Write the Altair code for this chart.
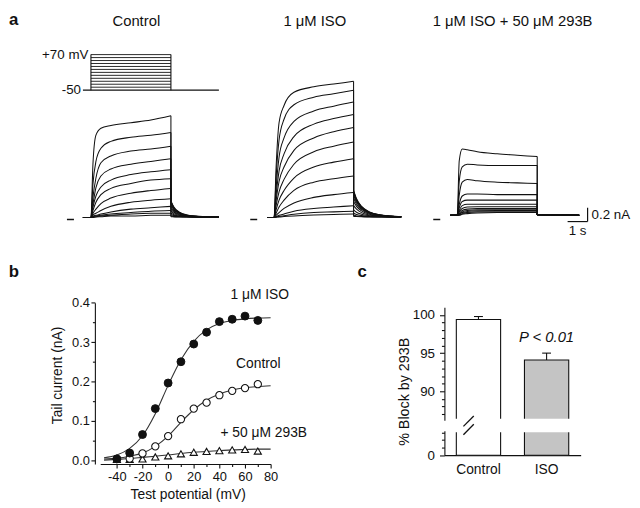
import altair as alt
import pandas as pd

FONT = "Liberation Sans"
INK = "#111111"
W, H = 632, 500

# ======================= panel a : current traces =======================
T_PULSE = [0, 0.1, 0.25, 0.5, 1, 2, 3, 4]          # s, during the test pulse
T_TAIL = [4, 4.15, 4.4, 4.8, 5.4, 6.4]             # s, tail at -50 mV
T_TAIL_293B = [4, 6.1]
ZERO_T = [-1.2, -0.85]                              # zero-current marker

CTRL_PRE = -0.4
CTRL_PULSE = [
    [0.03, 0.80, 1.22, 1.32, 1.36, 1.40, 1.44, 1.50],
    [0.03, 0.51, 0.84, 1.03, 1.13, 1.19, 1.22, 1.26],
    [0.03, 0.32, 0.60, 0.82, 0.92, 0.99, 1.02, 1.06],
    [0.03, 0.22, 0.46, 0.63, 0.73, 0.80, 0.84, 0.88],
    [0.03, 0.18, 0.34, 0.47, 0.57, 0.65, 0.69, 0.72],
    [0.03, 0.13, 0.25, 0.36, 0.45, 0.52, 0.57, 0.59],
    [0.03, 0.09, 0.15, 0.23, 0.31, 0.38, 0.42, 0.45],
    [0.03, 0.07, 0.09, 0.13, 0.19, 0.25, 0.28, 0.30],
    [0.03, 0.05, 0.06, 0.08, 0.11, 0.15, 0.17, 0.19],
    [0.03, 0.04, 0.05, 0.06, 0.08, 0.10, 0.12, 0.13],
    [0.03, 0.04, 0.04, 0.05, 0.06, 0.08, 0.09, 0.09],
    [0.03, 0.03, 0.035, 0.04, 0.05, 0.05, 0.06, 0.06],
]
CTRL_TAIL = [
    [0.27, 0.18, 0.11, 0.065, 0.045, 0.035],
    [0.26, 0.17, 0.105, 0.062, 0.044, 0.035],
    [0.25, 0.165, 0.10, 0.06, 0.043, 0.035],
    [0.23, 0.15, 0.095, 0.058, 0.042, 0.034],
    [0.21, 0.14, 0.088, 0.055, 0.041, 0.034],
    [0.18, 0.12, 0.08, 0.052, 0.04, 0.034],
    [0.15, 0.105, 0.07, 0.049, 0.039, 0.033],
    [0.12, 0.085, 0.06, 0.045, 0.037, 0.033],
    [0.09, 0.07, 0.052, 0.042, 0.036, 0.033],
    [0.07, 0.057, 0.046, 0.039, 0.035, 0.033],
    [0.05, 0.045, 0.04, 0.036, 0.034, 0.033],
    [0.04, 0.038, 0.036, 0.035, 0.034, 0.033],
]

ISO_PRE = -0.35
ISO_PULSE = [
    [0.03, 0.75, 1.40, 1.65, 1.84, 1.92, 1.96, 2.00],
    [0.03, 0.60, 1.15, 1.45, 1.66, 1.77, 1.82, 1.87],
    [0.03, 0.45, 0.90, 1.18, 1.42, 1.57, 1.64, 1.70],
    [0.03, 0.35, 0.70, 0.95, 1.20, 1.38, 1.46, 1.52],
    [0.03, 0.27, 0.55, 0.76, 1.00, 1.18, 1.27, 1.33],
    [0.03, 0.20, 0.40, 0.58, 0.80, 0.98, 1.06, 1.12],
    [0.03, 0.14, 0.28, 0.42, 0.60, 0.76, 0.83, 0.88],
    [0.03, 0.09, 0.18, 0.28, 0.42, 0.54, 0.59, 0.63],
    [0.03, 0.06, 0.10, 0.16, 0.24, 0.32, 0.36, 0.39],
    [0.03, 0.04, 0.06, 0.08, 0.12, 0.16, 0.18, 0.20],
    [0.03, 0.035, 0.045, 0.055, 0.075, 0.10, 0.11, 0.12],
    [0.03, 0.032, 0.037, 0.042, 0.052, 0.065, 0.073, 0.08],
]
ISO_TAIL = [
    [0.42, 0.30, 0.19, 0.11, 0.065, 0.04],
    [0.41, 0.29, 0.185, 0.105, 0.063, 0.04],
    [0.40, 0.28, 0.18, 0.10, 0.062, 0.04],
    [0.38, 0.27, 0.17, 0.097, 0.06, 0.04],
    [0.35, 0.25, 0.16, 0.092, 0.058, 0.04],
    [0.31, 0.22, 0.145, 0.085, 0.055, 0.04],
    [0.26, 0.19, 0.125, 0.077, 0.052, 0.04],
    [0.20, 0.15, 0.10, 0.066, 0.048, 0.038],
    [0.14, 0.105, 0.075, 0.055, 0.044, 0.037],
    [0.09, 0.072, 0.056, 0.045, 0.04, 0.036],
    [0.06, 0.052, 0.045, 0.04, 0.037, 0.035],
    [0.045, 0.042, 0.039, 0.037, 0.035, 0.034],
]

B293_PRE = -0.35
B293_PULSE = [
    [0.06, 0.85, 1.02, 1.01, 0.98, 0.95, 0.93, 0.91],
    [0.06, 0.55, 0.76, 0.80, 0.79, 0.78, 0.78, 0.78],
    [0.06, 0.35, 0.54, 0.58, 0.56, 0.54, 0.53, 0.52],
    [0.06, 0.22, 0.34, 0.37, 0.37, 0.36, 0.36, 0.36],
    [0.06, 0.17, 0.26, 0.28, 0.28, 0.28, 0.28, 0.28],
    [0.06, 0.13, 0.20, 0.22, 0.22, 0.22, 0.22, 0.22],
    [0.06, 0.11, 0.16, 0.18, 0.185, 0.185, 0.185, 0.185],
    [0.06, 0.09, 0.13, 0.15, 0.16, 0.16, 0.16, 0.16],
    [0.06, 0.08, 0.11, 0.13, 0.14, 0.14, 0.14, 0.14],
    [0.06, 0.07, 0.10, 0.115, 0.125, 0.13, 0.13, 0.13],
    [0.06, 0.065, 0.085, 0.10, 0.11, 0.11, 0.11, 0.11],
    [0.06, 0.06, 0.075, 0.085, 0.095, 0.10, 0.10, 0.10],
]
B293_TAIL = [[0.07, 0.06] for _ in range(12)]

# voltage protocol
V_STEPS = [-40, -30, -20, -10, 0, 10, 20, 30, 40, 50, 60, 70]
V_HOLD = -50
V_PULSE_T = [0, 4]
V_HOLD_T = [-0.4, 6.4]
V_LABELS = ["+70 mV", "-50"]
V_LABEL_V = [70, -50]
V_LABEL_T = [-0.08, -0.45]

A_TITLES = ["Control", "1 μM ISO", "1 μM ISO + 50 μM 293B"]
A_TITLE_T = [2.27, 2.05, 2.77]
A_TITLE_I = 2.87

SB_T = [5.52, 6.52]          # 1 s
SB_I = [-0.03, 0.17]         # 0.2 nA
SB_TEXT = ["0.2 nA", "1 s"]
SB_TEXT_T = [6.72, 6.02]
SB_TEXT_I = [0.07, -0.16]

# ======================= panel b : tail current vs potential =======================
B_V = [-40, -30, -20, -10, 0, 10, 20, 30, 40, 50, 60, 70]
B_ISO = [0.003, 0.018, 0.065, 0.131, 0.196, 0.250, 0.295, 0.325, 0.352, 0.358, 0.366, 0.355]
B_CTRL = [0.003, 0.004, 0.017, 0.035, 0.061, 0.104, 0.131, 0.146, 0.165, 0.176, 0.183, 0.193]
B_293B = [0.002, 0.002, 0.003, 0.008, 0.011, 0.016, 0.020, 0.022, 0.024, 0.026, 0.027, 0.023]

FIT_V = [-50, -40, -30, -20, -10, 0, 10, 20, 30, 40, 50, 60, 70, 80]
FIT_ISO = [0.006, 0.013, 0.030, 0.062, 0.118, 0.190, 0.255, 0.302, 0.331, 0.347, 0.355, 0.359, 0.361, 0.362]
FIT_CTRL = [0.003, 0.005, 0.010, 0.018, 0.035, 0.061, 0.096, 0.128, 0.152, 0.168, 0.178, 0.184, 0.187, 0.189]
FIT_293B = [0.000, 0.002, 0.004, 0.007, 0.010, 0.013, 0.017, 0.020, 0.022, 0.024, 0.026, 0.027, 0.028, 0.028]

B_LABELS = ["1 μM ISO", "Control", "+ 50 μM 293B"]
B_LABEL_V = [71.5, 70.4, 74.6]
B_LABEL_I = [0.42, 0.243, 0.07]

# ======================= panel c : % block =======================
C_GROUPS = ["Control", "ISO"]
C_MEAN = [99.4, 94.1]
C_SEM = [0.4, 0.9]
C_FILL = ["white", "#c4c4c4"]
C_P_TEXT = "P < 0.01"
C_P_AT = ["ISO", 97.1]

# panel letters (placed in the scales of their panels)
LET_A = ["a", -4.1, 3.0]
LET_BC = ["b", "c"]
LET_BC_V = [-124.3, 147.8]
LET_BC_I = 0.4786

# ======================= scales =======================
X_CTRL = ([0, 4], [84, 165])
X_ISO = ([0, 4], [269.5, 350])
X_293B = ([0, 4], [455, 536])
Y_A = ([0, 1], [211, 141])
Y_V = ([-50, 70], [80, 44])
X_B = ([-53, 80], [93.4, 266.0])
Y_B = ([-0.01, 0.4], [458.7, 295.3])
Y_CU = ([86.2, 101], [414.3, 300])
Y_CL = ([0, 3.2], [449.7, 425])


def sc(s):
    return alt.Scale(domain=s[0], range=s[1], nice=False, zero=False)


def cband():
    return alt.Scale(domain=C_GROUPS, range=[442, 580], paddingInner=0.35, paddingOuter=0.175)


def qx(field, s, axis=None):
    return alt.X(field, type="quantitative", scale=sc(s), axis=axis)


def qy(field, s, axis=None):
    return alt.Y(field, type="quantitative", scale=sc(s), axis=axis)


layers = []

# ---------- panel a ----------
def trace_layers(xs, pulse, tail, t_tail, t_pre):
    rows = []
    for k, vals in enumerate(pulse):
        rows.append({"trace": k, "t": t_pre, "i": vals[0]})
        for t, v in zip(T_PULSE, vals):
            rows.append({"trace": k, "t": t, "i": v})
    dp = pd.DataFrame(rows)
    rows = []
    for k, vals in enumerate(tail):
        for t, v in zip(t_tail, vals):
            rows.append({"trace": k, "t": t, "i": v})
    dt = pd.DataFrame(rows)
    dd = pd.DataFrame({"t": [T_PULSE[-1]] * len(pulse),
                       "top": [p[-1] for p in pulse],
                       "bot": [tl[0] for tl in tail]})
    dz = pd.DataFrame({"t0": [ZERO_T[0]], "t1": [ZERO_T[1]], "i": [0.0]})
    line = dict(color=INK, strokeWidth=1.05)
    return [
        alt.Chart(dp).mark_line(interpolate="monotone", **line).encode(
            x=qx("t", xs), y=qy("i", Y_A), detail="trace:N"),
        alt.Chart(dt).mark_line(interpolate="monotone", **line).encode(
            x=qx("t", xs), y=qy("i", Y_A), detail="trace:N"),
        alt.Chart(dd).mark_rule(**line).encode(
            x=qx("t", xs), y=qy("top", Y_A), y2="bot:Q"),
        alt.Chart(dz).mark_rule(color=INK, strokeWidth=1.5).encode(
            x=qx("t0", xs), x2="t1:Q", y=qy("i", Y_A)),
    ]


layers += trace_layers(X_CTRL, CTRL_PULSE, CTRL_TAIL, T_TAIL, CTRL_PRE)
layers += trace_layers(X_ISO, ISO_PULSE, ISO_TAIL, T_TAIL, ISO_PRE)
layers += trace_layers(X_293B, B293_PULSE, B293_TAIL, T_TAIL_293B, B293_PRE)

# titles of panel a
for xs, title, tt in zip([X_CTRL, X_ISO, X_293B], A_TITLES, A_TITLE_T):
    layers.append(
        alt.Chart(pd.DataFrame({"t": [tt], "i": [A_TITLE_I], "s": [title]}))
        .mark_text(font=FONT, fontSize=15, color=INK, align="center", baseline="middle")
        .encode(x=qx("t", xs), y=qy("i", Y_A), text="s:N"))

# voltage protocol
dv = pd.DataFrame({"v": V_STEPS, "t0": V_PULSE_T[0], "t1": V_PULSE_T[1]})
layers.append(alt.Chart(dv).mark_rule(color=INK, strokeWidth=0.9).encode(
    x=qx("t0", X_CTRL), x2="t1:Q", y=qy("v", Y_V)))
dedge = pd.DataFrame({"t": V_PULSE_T, "v0": V_HOLD, "v1": max(V_STEPS)})
layers.append(alt.Chart(dedge).mark_rule(color=INK, strokeWidth=1.1).encode(
    x=qx("t", X_CTRL), y=qy("v0", Y_V), y2="v1:Q"))
dh = pd.DataFrame({"t0": [V_HOLD_T[0]], "t1": [V_HOLD_T[1]], "v": [V_HOLD]})
layers.append(alt.Chart(dh).mark_rule(color=INK, strokeWidth=1.1).encode(
    x=qx("t0", X_CTRL), x2="t1:Q", y=qy("v", Y_V)))
dvl = pd.DataFrame({"t": V_LABEL_T, "v": V_LABEL_V, "s": V_LABELS})
layers.append(alt.Chart(dvl).mark_text(font=FONT, fontSize=13.5, color=INK, align="right",
                                       baseline="middle", dx=-1).encode(
    x=qx("t", X_CTRL), y=qy("v", Y_V), text="s:N"))

# scale bar
dsb_v = pd.DataFrame({"t": [SB_T[1]], "i0": [SB_I[0]], "i1": [SB_I[1]]})
layers.append(alt.Chart(dsb_v).mark_rule(color=INK, strokeWidth=1.2).encode(
    x=qx("t", X_293B), y=qy("i0", Y_A), y2="i1:Q"))
dsb_h = pd.DataFrame({"t0": [SB_T[0]], "t1": [SB_T[1]], "i": [SB_I[0]]})
layers.append(alt.Chart(dsb_h).mark_rule(color=INK, strokeWidth=1.2).encode(
    x=qx("t0", X_293B), x2="t1:Q", y=qy("i", Y_A)))
dsbt = pd.DataFrame({"t": SB_TEXT_T, "i": SB_TEXT_I, "s": SB_TEXT})
layers.append(alt.Chart(dsbt.iloc[[0]]).mark_text(font=FONT, fontSize=13.5, color=INK, align="left",
                                                  baseline="middle").encode(
    x=qx("t", X_293B), y=qy("i", Y_A), text="s:N"))
layers.append(alt.Chart(dsbt.iloc[[1]]).mark_text(font=FONT, fontSize=13.5, color=INK, align="center",
                                                  baseline="middle").encode(
    x=qx("t", X_293B), y=qy("i", Y_A), text="s:N"))

# letter a
layers.append(alt.Chart(pd.DataFrame({"t": [LET_A[1]], "i": [LET_A[2]], "s": [LET_A[0]]}))
              .mark_text(font=FONT, fontSize=17, fontWeight="bold", color=INK, align="left",
                         baseline="top")
              .encode(x=qx("t", X_CTRL), y=qy("i", Y_A), text="s:N"))

# ---------- panel b ----------
b_x_axis = alt.Axis(orient="bottom", offset=458.7 - H, values=[-40, -20, 0, 20, 40, 60, 80],
                    tickSize=4, labelPadding=3, labelFontSize=13,
                    labelExpr="replace(datum.label, '\u2212', '-')",
                    title="Test potential (mV)", titleFontSize=14, titleX=182, titleY=30.6,
                    titleAlign="center", titleBaseline="middle")
b_y_axis = alt.Axis(orient="left", offset=-88, values=[0, 0.1, 0.2, 0.3, 0.4], format=".1f",
                    tickSize=4, labelPadding=1.5, labelFontSize=13,
                    title="Tail current (nA)", titleFontSize=14, titleAngle=270,
                    titleX=-38, titleY=368.5, titleAlign="center", titleBaseline="middle")

fits = pd.DataFrame({
    "v": FIT_V * 3,
    "i": FIT_ISO + FIT_CTRL + FIT_293B,
    "s": ["iso"] * len(FIT_V) + ["ctrl"] * len(FIT_V) + ["b293"] * len(FIT_V),
})
layers.append(alt.Chart(fits).mark_line(interpolate="monotone", color="#333333", strokeWidth=1.1)
              .encode(x=qx("v", X_B, b_x_axis), y=qy("i", Y_B, b_y_axis), detail="s:N"))

# minor ticks of panel b
layers.append(alt.Chart(pd.DataFrame({"v": [0.0], "i": [0.0]})).mark_point(opacity=0).encode(
    x=qx("v", X_B, alt.Axis(orient="bottom", offset=458.7 - H, values=[-30, -10, 10, 30, 50, 70],
                            tickSize=2.5, labels=False, domain=False, title="")),
    y=qy("i", Y_B, alt.Axis(orient="left", offset=-88, values=[0.05, 0.15, 0.25, 0.35],
                            tickSize=2.5, labels=False, domain=False, title=""))))

pts = pd.DataFrame({"v": B_V, "iso": B_ISO, "ctrl": B_CTRL, "b293": B_293B})
layers.append(alt.Chart(pts).mark_point(shape="triangle-up", size=52, filled=True, fill="white",
                                        stroke=INK, strokeWidth=1.1, opacity=1)
              .encode(x=qx("v", X_B), y=qy("b293", Y_B)))
layers.append(alt.Chart(pts).mark_point(shape="circle", size=54, filled=True, fill="white",
                                        stroke=INK, strokeWidth=1.1, opacity=1)
              .encode(x=qx("v", X_B), y=qy("ctrl", Y_B)))
layers.append(alt.Chart(pts).mark_point(shape="circle", size=64, filled=True, fill=INK,
                                        stroke=INK, strokeWidth=1, opacity=1)
              .encode(x=qx("v", X_B), y=qy("iso", Y_B)))
layers.append(alt.Chart(pd.DataFrame({"v": B_LABEL_V, "i": B_LABEL_I, "s": B_LABELS}))
              .mark_text(font=FONT, fontSize=14, color=INK, align="center", baseline="middle")
              .encode(x=qx("v", X_B), y=qy("i", Y_B), text="s:N"))
layers.append(alt.Chart(pd.DataFrame({"v": LET_BC_V, "i": [LET_BC_I] * 2, "s": LET_BC}))
              .mark_text(font=FONT, fontSize=17, fontWeight="bold", color=INK, align="left",
                         baseline="middle")
              .encode(x=qx("v", X_B), y=qy("i", Y_B), text="s:N"))

# ---------- panel c ----------
dc = pd.DataFrame({"g": C_GROUPS, "m": C_MEAN, "hi": [m + s for m, s in zip(C_MEAN, C_SEM)],
                   "lo": Y_CU[0][0], "top": Y_CL[0][1], "zero": 0.0})
fill = alt.Color("g:N", scale=alt.Scale(domain=C_GROUPS, range=C_FILL), legend=None)
cu_axis = alt.Axis(orient="left", offset=-442, values=[90, 95, 100], tickSize=5, labelPadding=5,
                   labelFontSize=13.5, title="% Block by 293B", titleFontSize=14.5, titleAngle=270,
                   titleX=-40, titleY=385, titleAlign="center", titleBaseline="middle")
cl_axis = alt.Axis(orient="left", offset=-442, values=[0], tickSize=5, labelPadding=5,
                   labelFontSize=13.5, title="")
cx_axis = alt.Axis(orient="bottom", offset=449.7 - H, ticks=False, labelPadding=8,
                   labelFontSize=14, labelAngle=0, title="")

layers.append(alt.Chart(dc).mark_bar(stroke=INK, strokeWidth=1.1).encode(
    x=alt.X("g:N", scale=cband(), axis=None, sort=C_GROUPS),
    y=qy("m", Y_CU, cu_axis), y2="lo:Q", fill=fill))
layers.append(alt.Chart(dc).mark_bar(stroke=INK, strokeWidth=1.1).encode(
    x=alt.X("g:N", scale=cband(), axis=cx_axis, sort=C_GROUPS),
    y=qy("top", Y_CL, cl_axis), y2="zero:Q", fill=fill))
# open the bars at the break
layers.append(alt.Chart(dc).mark_tick(color="white", size=48, thickness=3, opacity=1).encode(
    x=alt.X("g:N", scale=cband(), axis=None, sort=C_GROUPS), y=qy("lo", Y_CU)))
layers.append(alt.Chart(dc).mark_tick(color="white", size=48, thickness=3, opacity=1).encode(
    x=alt.X("g:N", scale=cband(), axis=None, sort=C_GROUPS), y=qy("top", Y_CL)))
# minor ticks of panel c
layers.append(alt.Chart(pd.DataFrame({"i": [95.0]})).mark_point(opacity=0).encode(
    y=qy("i", Y_CU, alt.Axis(orient="left", offset=-442,
                             values=[87, 88, 89, 91, 92, 93, 94, 96, 97, 98, 99],
                             tickSize=3, labels=False, domain=False, title=""))))
layers.append(alt.Chart(pd.DataFrame({"i": [1.0]})).mark_point(opacity=0).encode(
    y=qy("i", Y_CL, alt.Axis(orient="left", offset=-442, values=[1, 2, 3],
                             tickSize=3, labels=False, domain=False, title=""))))
# error bars
layers.append(alt.Chart(dc).mark_rule(color=INK, strokeWidth=1.1).encode(
    x=alt.X("g:N", scale=cband(), axis=None, sort=C_GROUPS), y=qy("m", Y_CU), y2="hi:Q"))
layers.append(alt.Chart(dc).mark_tick(color=INK, size=9, thickness=1.1, opacity=1).encode(
    x=alt.X("g:N", scale=cband(), axis=None, sort=C_GROUPS), y=qy("hi", Y_CU)))
# P text
layers.append(alt.Chart(pd.DataFrame({"g": [C_P_AT[0]], "i": [C_P_AT[1]], "s": [C_P_TEXT]}))
              .mark_text(font=FONT, fontSize=15, fontStyle="italic", color=INK, align="center",
                         baseline="middle")
              .encode(x=alt.X("g:N", scale=cband(), axis=None, sort=C_GROUPS),
                      y=qy("i", Y_CU), text="s:N"))
# axis-break slashes
slash = dict(shape="M-1,1L1,-1", size=110, filled=False, stroke=INK, strokeWidth=1.3,
             opacity=1, xOffset=-10)
layers.append(alt.Chart(pd.DataFrame({"g": ["Control"], "i": [Y_CU[0][0]]}))
              .mark_point(yOffset=1, **slash)
              .encode(x=alt.X("g:N", scale=cband(), axis=None, bandPosition=0, sort=C_GROUPS),
                      y=qy("i", Y_CU)))
layers.append(alt.Chart(pd.DataFrame({"g": ["Control"], "i": [Y_CL[0][1]]}))
              .mark_point(yOffset=-1.3, **slash)
              .encode(x=alt.X("g:N", scale=cband(), axis=None, bandPosition=0, sort=C_GROUPS),
                      y=qy("i", Y_CL)))

chart = (
    alt.layer(*layers)
    .resolve_scale(x="independent", y="independent", fill="independent")
    .properties(width=W, height=H, padding=0,
                autosize=alt.AutoSizeParams(type="none"))
    .configure_view(stroke="transparent")
    .configure_axis(grid=False, labelFont=FONT, titleFont=FONT, labelColor=INK, titleColor=INK,
                    domainColor=INK, tickColor=INK, domainWidth=1.1, tickWidth=1.1,
                    titleFontWeight="normal", labelOverlap=False, labelFlush=False)
    .configure_text(font=FONT)
)

chart.save("out.html", embed_options={"renderer": "svg", "actions": False})
